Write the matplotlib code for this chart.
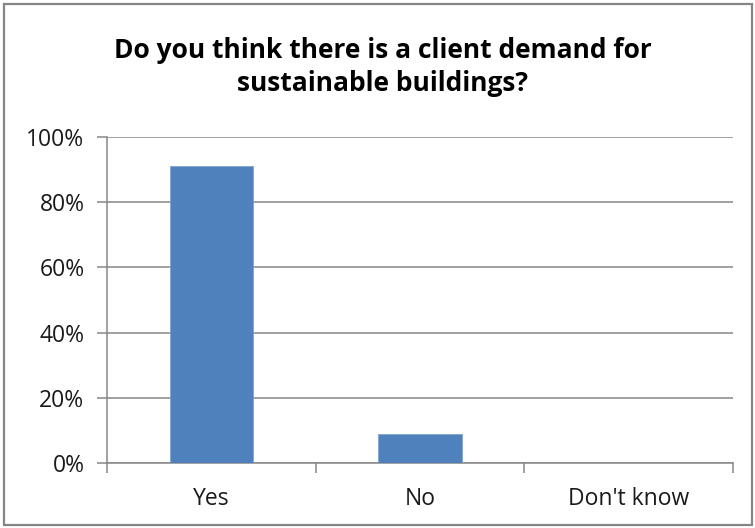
import numpy as np
import matplotlib
matplotlib.use("Agg")
import matplotlib.pyplot as plt
from matplotlib.patches import Rectangle
from matplotlib.ticker import FixedLocator, PercentFormatter

categories = ["Yes", "No", "Don't know"]
shares = [91, 9, 0]  # percent of respondents
y_ticks = [0, 20, 40, 60, 80, 100]

title = "Do you think there is a client demand for\nsustainable buildings?"

plt.rcParams['font.family'] = ['Open Sans', 'DejaVu Sans']

grey = "#868686"
bar_col = "#4F81BD"

fig = plt.figure(figsize=(7.55, 5.28), dpi=100)
ax = fig.add_axes([107/755, 1 - 463/528, 626/755, 326/528])

x = np.arange(len(categories))
ax.bar(x, shares, width=0.4, color=bar_col, edgecolor="#7FA3CF", linewidth=0.6, zorder=3)

ax.set_xlim(-0.5, len(categories) - 0.5)
ax.set_ylim(0, 100)
ax.set_yticks(y_ticks)
ax.yaxis.set_major_formatter(PercentFormatter(decimals=0))
ax.grid(axis="y", color=grey, linewidth=1.1, zorder=0)

# category labels in the middle, tick marks on the boundaries
ax.set_xticks(x)
ax.set_xticklabels(categories)
ax.xaxis.set_minor_locator(FixedLocator(np.arange(-0.5, len(categories), 1.0)))
ax.tick_params(axis="x", which="major", length=0, pad=17, labelsize=16.5, labelcolor="#1a1a1a")
ax.tick_params(axis="x", which="minor", length=7.2, width=1.1, color=grey, direction="out")
ax.tick_params(axis="y", length=7.2, width=1.1, color=grey, pad=9, labelsize=16.5, labelcolor="#1a1a1a")

for side in ["top", "right"]:
    ax.spines[side].set_visible(False)
for side in ["left", "bottom"]:
    ax.spines[side].set_color(grey)
    ax.spines[side].set_linewidth(1.1)

fig.text(383/755, 1 - 67/528, title, ha="center", va="center", fontsize=19,
         fontweight="bold", color="black", linespacing=1.3)

# outer frame of the chart area
fig.patches.append(Rectangle((4/755, 3/528), 748/755, 521/528, transform=fig.transFigure,
                             fill=False, edgecolor=grey, linewidth=1.6))

fig.savefig("out.png", dpi=100)
